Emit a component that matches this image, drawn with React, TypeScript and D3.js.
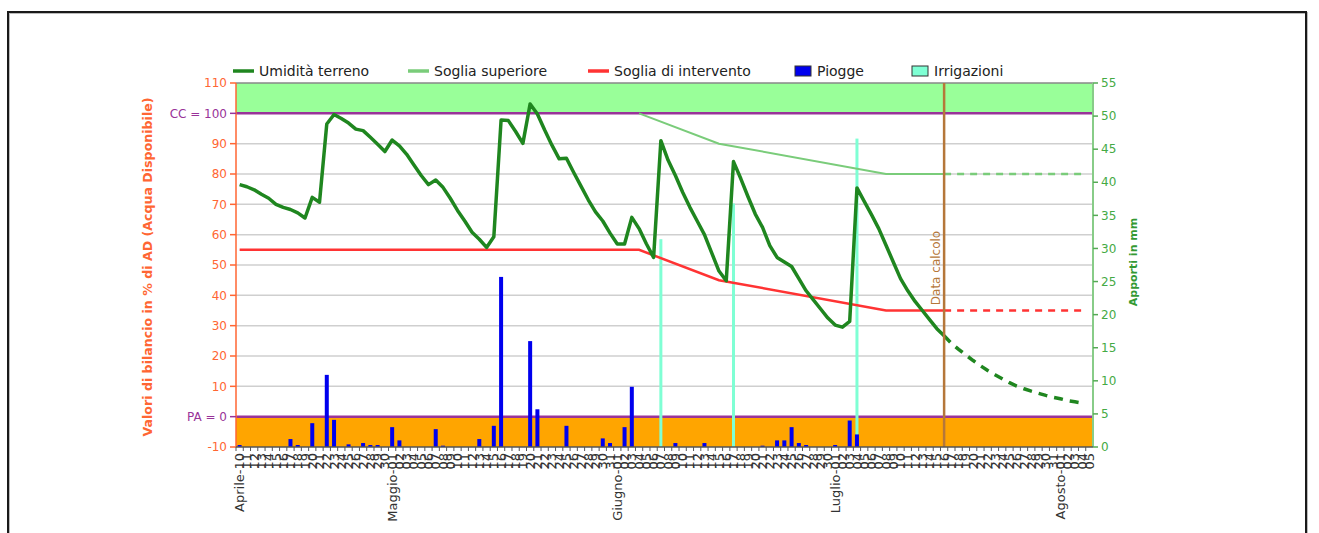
import React from "react";
import * as d3 from "d3";

// ---------- DATA ----------
const START_DATE = new Date(2011, 3, 10); // Aprile-10
const END_DATE = new Date(2011, 7, 6); // exclusive -> last day Agosto-05
const MESI = ["Gennaio", "Febbraio", "Marzo", "Aprile", "Maggio", "Giugno", "Luglio", "Agosto", "Settembre", "Ottobre", "Novembre", "Dicembre"];

// Umidità terreno (% AD), one value per day from day 0 (Aprile-10) to the data calcolo
const UMIDITA = [
  76.5, 75.8, 74.8, 73.3, 72, 70, 69, 68.3, 67.2, 65.5,
  72.3, 70.7, 96.5, 99.6, 98.3, 96.8, 94.8, 94.3, 92.1, 89.8,
  87.4, 91.2, 89.3, 86.5, 83, 79.5, 76.5, 78, 75.6, 72,
  68, 64.5, 60.8, 58.5, 55.8, 59.3, 97.8, 97.6, 94, 90.1,
  103.1, 99.8, 94.5, 89.5, 85, 85.2, 80.5, 76, 71.5, 67.5,
  64.5, 60.5, 56.9, 56.9, 65.7, 62, 57, 52.5, 91, 84.5,
  79.5, 74, 69, 64.5, 60, 54, 48, 44.8, 84.1, 78.5,
  72.5, 66.8, 62.4, 56.4, 52.5, 51, 49.5, 45.5, 41.5, 38.5,
  35.5, 32.5, 30.2, 29.5, 31.4, 75.4, 71, 66.6, 62, 56.5,
  51, 45.5, 41.5, 38, 35, 32, 29, 26.7,
];
// Previsione (dashed), starting at the data calcolo
const PREVISIONE_INIZIO = 97;
const PREVISIONE = [
  26.7, 24.2, 22.2, 20.3, 18.5, 16.8, 15.2, 13.8, 12.5, 11.2,
  10.1, 9.2, 8.4, 7.7, 7.0, 6.4, 5.9, 5.3, 4.9, 4.5,
];

const SOGLIA_SUP_GIORNI = [55, 66, 89, 97];
const SOGLIA_SUP_VALORI = [100, 90, 80, 80];
const SOGLIA_SUP_PREV_GIORNI = [97, 116];
const SOGLIA_SUP_PREV_VALORI = [80, 80];

const SOGLIA_INT_GIORNI = [0, 55, 66, 89, 97];
const SOGLIA_INT_VALORI = [55, 55, 45, 35, 35];
const SOGLIA_INT_PREV_GIORNI = [97, 116];
const SOGLIA_INT_PREV_VALORI = [35, 35];

// Piogge (mm)
const PIOGGE_GIORNI = [0, 7, 8, 10, 12, 13, 15, 17, 18, 19, 21, 22, 27, 28, 33, 35, 36, 40, 41, 45, 50, 51, 53, 54, 60, 64, 72, 74, 75, 76, 77, 78, 82, 84, 85];
const PIOGGE_MM = [0.3, 1.2, 0.3, 3.6, 10.9, 4.1, 0.4, 0.6, 0.3, 0.3, 3.0, 1.0, 2.7, 0.2, 1.2, 3.2, 25.7, 16.0, 5.7, 3.2, 1.3, 0.6, 3.0, 9.1, 0.6, 0.6, 0.2, 1.0, 1.0, 3.0, 0.6, 0.3, 0.3, 4.0, 1.9];

// Irrigazioni (mm)
const IRRIG_GIORNI = [58, 68, 85];
const IRRIG_MM = [31.4, 36.8, 46.6];

const DATA_CALCOLO = 97;

const LEFT_TICKS = [-10, 0, 10, 20, 30, 40, 50, 60, 70, 80, 90, 100, 110];
const RIGHT_TICKS = [0, 5, 10, 15, 20, 25, 30, 35, 40, 45, 50, 55];

const LEGEND = [
  { label: "Umidità terreno", kind: "line", color: "#1f861f", x: 233 },
  { label: "Soglia superiore", kind: "line", color: "#7acc7a", x: 408 },
  { label: "Soglia di intervento", kind: "line", color: "#ff3333", x: 588 },
  { label: "Piogge", kind: "box", color: "#0000ee", x: 795 },
  { label: "Irrigazioni", kind: "box", color: "#7fffd4", x: 912 },
];

// ---------- LAYOUT ----------
const W = 1319;
const H = 533;
const PL = 236, PR = 1093, PT = 83, PB = 447;
const FONT = "'DejaVu Sans', Verdana, sans-serif";

export default function App() {
  const days = d3.timeDay.range(START_DATE, END_DATE);
  const idx = days.map((_, i) => i);
  const x = d3.scaleBand<number>().domain(idx).range([PL, PR]).padding(0);
  const cx = (i: number) => (x(i) as number) + x.bandwidth() / 2;
  const yL = d3.scaleLinear().domain([-10, 110]).range([PB, PT]);
  const yR = d3.scaleLinear().domain([0, 55]).range([PB, PT]);

  const lineGen = d3.line<[number, number]>().x((d) => cx(d[0])).y((d) => yL(d[1]));
  const zip = (a: number[], b: number[]) => a.map((v, i) => [v, b[i]] as [number, number]);

  const umid = UMIDITA.map((v, i) => [i, v] as [number, number]);
  const prev = PREVISIONE.map((v, i) => [PREVISIONE_INIZIO + i, v] as [number, number]);

  const fmtLabel = (d: Date, i: number) => {
    const dd = String(d.getDate()).padStart(2, "0");
    if (i === 0 || d.getDate() === 1) return `${MESI[d.getMonth()]}-${dd}`;
    return dd;
  };

  return (
    <svg width={W} height={H} style={{ position: "absolute", left: 0, top: 0, background: "#fff" }} fontFamily={FONT}>
      {/* frame */}
      <rect x={9} y={13} width={1298} height={700} fill="none" stroke="#bbb" strokeWidth={2} />
      <rect x={8} y={12} width={1298} height={700} fill="none" stroke="#1a1a1a" strokeWidth={2} />

      {/* legend */}
      {LEGEND.map((l) => (
        <g key={l.label}>
          {l.kind === "line" ? (
            <line x1={l.x} x2={l.x + 21} y1={71} y2={71} stroke={l.color} strokeWidth={3.5} />
          ) : (
            <rect x={l.x} y={66} width={16} height={10} fill={l.color} stroke="#333" strokeWidth={1} />
          )}
          <text x={l.x + (l.kind === "line" ? 26 : 22)} y={76} fontSize={14} fill="#222">{l.label}</text>
        </g>
      ))}

      {/* bands */}
      <rect x={PL} y={yL(110)} width={PR - PL} height={yL(100) - yL(110)} fill="#99ff99" />
      <rect x={PL} y={yL(0)} width={PR - PL} height={yL(-10) - yL(0)} fill="#ffa500" />

      {/* grid */}
      {LEFT_TICKS.filter((t) => t > 0 && t < 100).map((t) => (
        <line key={t} x1={PL} x2={PR} y1={yL(t)} y2={yL(t)} stroke="#cfcfcf" strokeWidth={1.5} />
      ))}
      <line x1={PL} x2={PR} y1={PT} y2={PT} stroke="#888" strokeWidth={1.5} />

      {/* CC / PA lines */}
      <line x1={PL} x2={PR} y1={yL(100)} y2={yL(100)} stroke="#993399" strokeWidth={2.5} />
      <line x1={PL} x2={PR} y1={yL(0)} y2={yL(0)} stroke="#993399" strokeWidth={2.5} />

      {/* irrigazioni */}
      {IRRIG_GIORNI.map((g, i) => (
        <rect key={g} x={cx(g) - 1.5} y={yR(IRRIG_MM[i])} width={3} height={yR(0) - yR(IRRIG_MM[i])} fill="#7fffd4" />
      ))}
      {/* piogge */}
      {PIOGGE_GIORNI.map((g, i) => (
        <rect key={g} x={cx(g) - 2} y={yR(PIOGGE_MM[i])} width={4} height={yR(0) - yR(PIOGGE_MM[i])} fill="#0000ee" />
      ))}

      {/* soglie */}
      <path d={lineGen(zip(SOGLIA_SUP_GIORNI, SOGLIA_SUP_VALORI)) || ""} fill="none" stroke="#7acc7a" strokeWidth={2} />
      <path d={lineGen(zip(SOGLIA_SUP_PREV_GIORNI, SOGLIA_SUP_PREV_VALORI)) || ""} fill="none" stroke="#7acc7a" strokeWidth={2.5} strokeDasharray="7,6" />
      <path d={lineGen(zip(SOGLIA_INT_GIORNI, SOGLIA_INT_VALORI)) || ""} fill="none" stroke="#ff3333" strokeWidth={2.5} />
      <path d={lineGen(zip(SOGLIA_INT_PREV_GIORNI, SOGLIA_INT_PREV_VALORI)) || ""} fill="none" stroke="#ff3333" strokeWidth={2.5} strokeDasharray="7,6" />

      {/* umidità */}
      <path d={lineGen(umid) || ""} fill="none" stroke="#1f861f" strokeWidth={3.5} strokeLinejoin="round" />
      <path d={lineGen(prev) || ""} fill="none" stroke="#1f861f" strokeWidth={3.5} strokeDasharray="9,7" />

      {/* data calcolo */}
      <line x1={cx(DATA_CALCOLO)} x2={cx(DATA_CALCOLO)} y1={PT} y2={PB} stroke="#b5773a" strokeWidth={2.5} />
      <text transform={`translate(${cx(DATA_CALCOLO) - 4},268) rotate(-90)`} textAnchor="middle" fontSize={12} fill="#b5773a">Data calcolo</text>

      {/* left axis */}
      <line x1={PL} x2={PL} y1={PT} y2={PB} stroke="#ff6633" strokeWidth={1.5} />
      {LEFT_TICKS.map((t) => (
        <g key={t}>
          <line x1={PL - 6} x2={PL} y1={yL(t)} y2={yL(t)} stroke={t === 0 || t === 100 ? "#993399" : "#ff6633"} strokeWidth={1.5} />
          <text x={PL - 9} y={yL(t)} dy="0.35em" textAnchor="end" fontSize={12}
            fill={t === 0 || t === 100 ? "#993399" : "#ff6633"}>
            {t === 100 ? "CC = 100" : t === 0 ? "PA = 0" : String(t)}
          </text>
        </g>
      ))}
      <text transform={`translate(152,${(PT + PB) / 2 + 2}) rotate(-90)`} textAnchor="middle" fontSize={12.6} fontWeight="bold" fill="#ff6633">
        Valori di bilancio in % di AD (Acqua Disponibile)
      </text>

      {/* right axis */}
      <line x1={PR} x2={PR} y1={PT} y2={PB} stroke="#88cc88" strokeWidth={2} />
      {RIGHT_TICKS.map((t) => (
        <g key={t}>
          <line x1={PR} x2={PR + 5} y1={yR(t)} y2={yR(t)} stroke="#55aa55" strokeWidth={1.5} />
          <text x={PR + 8} y={yR(t)} dy="0.35em" fontSize={12} fill="#44aa44">{t}</text>
        </g>
      ))}
      <text transform={`translate(1137,262) rotate(-90)`} textAnchor="middle" fontSize={11} fontWeight="bold" fill="#339933">
        Apporti in mm
      </text>

      {/* x axis */}
      <line x1={PL} x2={PR} y1={PB} y2={PB} stroke="#555" strokeWidth={1.5} />
      {idx.map((i) => (
        <line key={"t" + i} x1={x(i) as number} x2={x(i) as number} y1={PB} y2={PB + 4} stroke="#555" strokeWidth={1} />
      ))}
      {days.map((d, i) => (
        <text key={"l" + i} transform={`translate(${cx(i)},${PB + 6}) rotate(-90)`} textAnchor="end" dy="0.35em" fontSize={13} fill="#333">
          {fmtLabel(d, i)}
        </text>
      ))}
    </svg>
  );
}
